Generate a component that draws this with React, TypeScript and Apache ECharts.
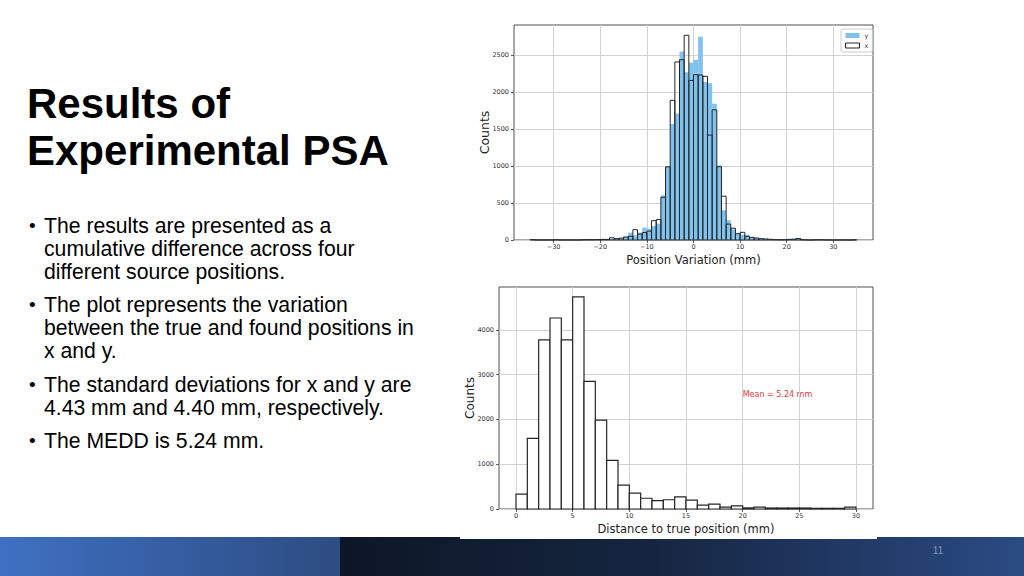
import React, { useEffect, useRef } from "react";
import * as echarts from "echarts";

// ---------- DATA ----------
// Top histogram: position variation (mm), bins of width 1 starting at -35
const TOP_BIN_START = -35;
const TOP_BIN_WIDTH = 1;
// x variation (black outlined bars), bins -35 .. 34
const xVariationCounts = [
  5, 0, 0, 0, 0, 4, 0, 0, 0, 0,
  0, 3, 4, 4, 6, 8, 8, 30, 18, 25,
  40, 50, 140, 80, 100, 120, 262, 276, 578, 990,
  1890, 2410, 2440, 2770, 2160, 2237, 2233, 2215, 1420, 1762,
  992, 593, 215, 160, 86, 104, 50, 36, 27, 18,
  14, 10, 5, 4, 4, 8, 10, 20, 4, 0,
  0, 4, 3, 0, 0, 0, 0, 0, 0, 2,
];
// y variation (blue filled bars), bins -35 .. 34
const yVariationCounts = [
  0, 0, 0, 0, 0, 3, 0, 0, 0, 0,
  0, 2, 3, 5, 5, 6, 10, 15, 20, 25,
  45, 100, 63, 100, 168, 150, 190, 222, 605, 1000,
  1570, 1710, 2550, 2270, 2400, 2440, 2750, 2140, 2120, 1843,
  1010, 403, 267, 145, 86, 72, 72, 40, 25, 20,
  15, 8, 4, 3, 3, 15, 20, 25, 5, 2,
  2, 3, 3, 10, 3, 0, 0, 0, 0, 0,
];
// Bottom histogram: distance to true position (mm), bins of width 1 from 0 to 30
const DIST_BIN_START = 0;
const DIST_BIN_WIDTH = 1;
const distanceCounts = [
  333, 1578, 3778, 4267, 3778, 4741, 2852, 1985, 1085, 533,
  356, 240, 185, 207, 270, 197, 85, 107, 44, 70,
  25, 40, 22, 22, 22, 22, 15, 15, 15, 40,
];
const MEAN_DISTANCE = 5.24;

const topXTicks = [-30, -20, -10, 0, 10, 20, 30];
const topYTicks = [0, 500, 1000, 1500, 2000, 2500];
const botXTicks = [0, 5, 10, 15, 20, 25, 30];
const botYTicks = [0, 1000, 2000, 3000, 4000];

const titleLines = ["Results of", "Experimental PSA"];
const bulletParagraphs = [
  ["The results are presented as a", "cumulative difference across four", "different source positions."],
  ["The plot represents the variation", "between the true and found positions in", "x and y."],
  ["The standard deviations for x and y are", "4.43 mm and 4.40 mm, respectively."],
  ["The MEDD is 5.24 mm."],
];
const pageNumber = "11";

// ---------- HELPERS ----------
const toBins = (counts: number[], start: number, width: number) =>
  counts.map((c, i) => [start + i * width, start + (i + 1) * width, c]);

const histRender = (style: any) => (params: any, api: any) => {
  const x0 = api.value(0);
  const x1 = api.value(1);
  const v = api.value(2);
  const a = api.coord([x0, v]);
  const b = api.coord([x1, 0]);
  return {
    type: "rect",
    shape: { x: a[0], y: a[1], width: b[0] - a[0], height: b[1] - a[1] },
    style: { ...style },
  };
};

const MPL_FONT = "DejaVu Sans";
const SLIDE_FONT = "Liberation Sans, Arial, sans-serif";
const minus = (v: number) => String(v).replace("-", "\u2212");

const BLUE = "#80c2ee";
const EDGE = "#262626";
const GRID_LINE = "#d3d3d3";
const FRAME = "#505050";

export default function App() {
  const ref = useRef<HTMLDivElement>(null);

  useEffect(() => {
    if (!ref.current) return;
    const chart = echarts.init(ref.current, null, { renderer: "svg" });

    const axisCommon = (ticks: number[], fontSize: number, margin: number) => ({
      axisLine: { show: false, onZero: false },
      axisTick: { show: true, length: 3, lineStyle: { color: "#333", width: 0.8 }, customValues: ticks },
      axisLabel: {
        customValues: ticks,
        fontSize,
        margin,
        color: "#333",
        fontFamily: MPL_FONT,
        formatter: minus,
      },
      splitLine: { show: true, lineStyle: { color: GRID_LINE, width: 1 } },
      nameMoveOverlap: false,
    });

    // slide graphics
    const graphics: any[] = [];
    graphics.push({
      type: "rect",
      z: -10,
      shape: { x: 0, y: 537, width: 340, height: 39 },
      style: {
        fill: new echarts.graphic.LinearGradient(0, 0, 1, 0, [
          { offset: 0, color: "#3f70c2" },
          { offset: 1, color: "#2d4c82" },
        ]),
      },
    });
    graphics.push({
      type: "rect",
      z: -10,
      shape: { x: 340, y: 537, width: 684, height: 39 },
      style: {
        fill: new echarts.graphic.LinearGradient(0, 0, 1, 0, [
          { offset: 0, color: "#0d1626" },
          { offset: 0.45, color: "#152540" },
          { offset: 1, color: "#2b4b84" },
        ]),
      },
    });
    graphics.push({
      type: "rect",
      z: -9,
      shape: { x: 460, y: 530, width: 417, height: 9 },
      style: { fill: "#ffffff" },
    });
    graphics.push({
      type: "text",
      x: 938,
      y: 550,
      style: { text: pageNumber, fontSize: 10, fill: "#8496b4", fontFamily: SLIDE_FONT, align: "center", verticalAlign: "middle" },
    });
    titleLines.forEach((t, i) => {
      graphics.push({
        type: "text",
        x: 27,
        y: 103 + i * 47,
        style: { text: t, fontSize: 42, fontWeight: "bold", fill: "#000", fontFamily: SLIDE_FONT, align: "left", verticalAlign: "middle" },
      });
    });
    const paraStarts = [233, 312, 392, 448];
    bulletParagraphs.forEach((lines, p) => {
      const base = paraStarts[p];
      graphics.push({
        type: "text",
        x: 29,
        y: base - 7.3,
        style: { text: "\u2022", fontSize: 19, fill: "#000", fontFamily: SLIDE_FONT, align: "left", verticalAlign: "middle" },
      });
      lines.forEach((line, j) => {
        graphics.push({
          type: "text",
          x: 44,
          y: base + j * 23 - 7.3,
          style: { text: line, fontSize: 21.2, fill: "#000", fontFamily: SLIDE_FONT, align: "left", verticalAlign: "middle" },
        });
      });
    });

    chart.setOption({
      animation: false,
      backgroundColor: "#ffffff",
      grid: [
        { left: 514, top: 25, width: 359, height: 215, show: true, borderColor: FRAME, borderWidth: 1, backgroundColor: "transparent" },
        { left: 499, top: 287, width: 374, height: 222, show: true, borderColor: FRAME, borderWidth: 1, backgroundColor: "transparent" },
      ],
      xAxis: [
        {
          type: "value", gridIndex: 0, min: -38.5, max: 38.5,
          ...axisCommon(topXTicks, 6.5, 3),
          name: "Position Variation (mm)", nameLocation: "middle", nameGap: 14,
          nameTextStyle: { fontSize: 11.5, color: "#222", fontFamily: MPL_FONT },
        },
        {
          type: "value", gridIndex: 1, min: -1.5, max: 31.5,
          ...axisCommon(botXTicks, 6.5, 3),
          name: "Distance to true position (mm)", nameLocation: "middle", nameGap: 14,
          nameTextStyle: { fontSize: 11.5, color: "#222", fontFamily: MPL_FONT },
        },
      ],
      yAxis: [
        {
          type: "value", gridIndex: 0, min: 0, max: 2910,
          ...axisCommon(topYTicks, 6.5, 5),
          name: "Counts", nameLocation: "middle", nameGap: 23,
          nameTextStyle: { fontSize: 12.5, color: "#222", fontFamily: MPL_FONT },
        },
        {
          type: "value", gridIndex: 1, min: 0, max: 4960,
          ...axisCommon(botYTicks, 6.5, 5),
          name: "Counts", nameLocation: "middle", nameGap: 23,
          nameTextStyle: { fontSize: 12, color: "#222", fontFamily: MPL_FONT },
        },
      ],
      legend: {
        left: 841, top: 29, orient: "vertical",
        itemWidth: 14, itemHeight: 5, itemGap: 3,
        padding: [3, 4, 3, 4],
        borderColor: "#cccccc", borderWidth: 1, borderRadius: 2,
        backgroundColor: "#ffffff",
        textStyle: { fontSize: 6.5, color: "#333", fontFamily: MPL_FONT },
        data: [
          { name: "y", icon: "rect", itemStyle: { color: BLUE, borderWidth: 0 } },
          { name: "x", icon: "rect", itemStyle: { color: "#ffffff", borderColor: EDGE, borderWidth: 1 } },
        ],
      },
      graphic: graphics,
      series: [
        {
          name: "y", type: "custom", xAxisIndex: 0, yAxisIndex: 0,
          itemStyle: { color: BLUE },
          encode: { x: [0, 1], y: 2 },
          data: toBins(yVariationCounts, TOP_BIN_START, TOP_BIN_WIDTH),
          renderItem: histRender({ fill: BLUE, stroke: null }),
        },
        {
          name: "x", type: "custom", xAxisIndex: 0, yAxisIndex: 0,
          itemStyle: { color: "#ffffff", borderColor: EDGE },
          encode: { x: [0, 1], y: 2 },
          data: toBins(xVariationCounts, TOP_BIN_START, TOP_BIN_WIDTH),
          renderItem: histRender({ fill: "none", stroke: EDGE, lineWidth: 1 }),
        },
        {
          name: "distance", type: "custom", xAxisIndex: 1, yAxisIndex: 1,
          itemStyle: { color: "#ffffff", borderColor: EDGE },
          encode: { x: [0, 1], y: 2 },
          data: toBins(distanceCounts, DIST_BIN_START, DIST_BIN_WIDTH),
          renderItem: histRender({ fill: "#ffffff", stroke: EDGE, lineWidth: 1.2 }),
        },
      ],
    });

    const meanPos = chart.convertToPixel({ gridIndex: 1 }, [20, 2560]) as number[];
    chart.setOption({
      graphic: [
        ...graphics,
        {
          type: "text",
          x: meanPos[0],
          y: meanPos[1],
          style: {
            text: `Mean = ${MEAN_DISTANCE.toFixed(2)} mm`,
            fontSize: 8, fill: "#e8383d", fontFamily: MPL_FONT, align: "left", verticalAlign: "middle",
          },
        },
      ],
    });

    return () => chart.dispose();
  }, []);

  return (
    <div
      ref={ref}
      style={{ position: "absolute", left: 0, top: 0, width: 1024, height: 576, background: "#fff" }}
    />
  );
}
